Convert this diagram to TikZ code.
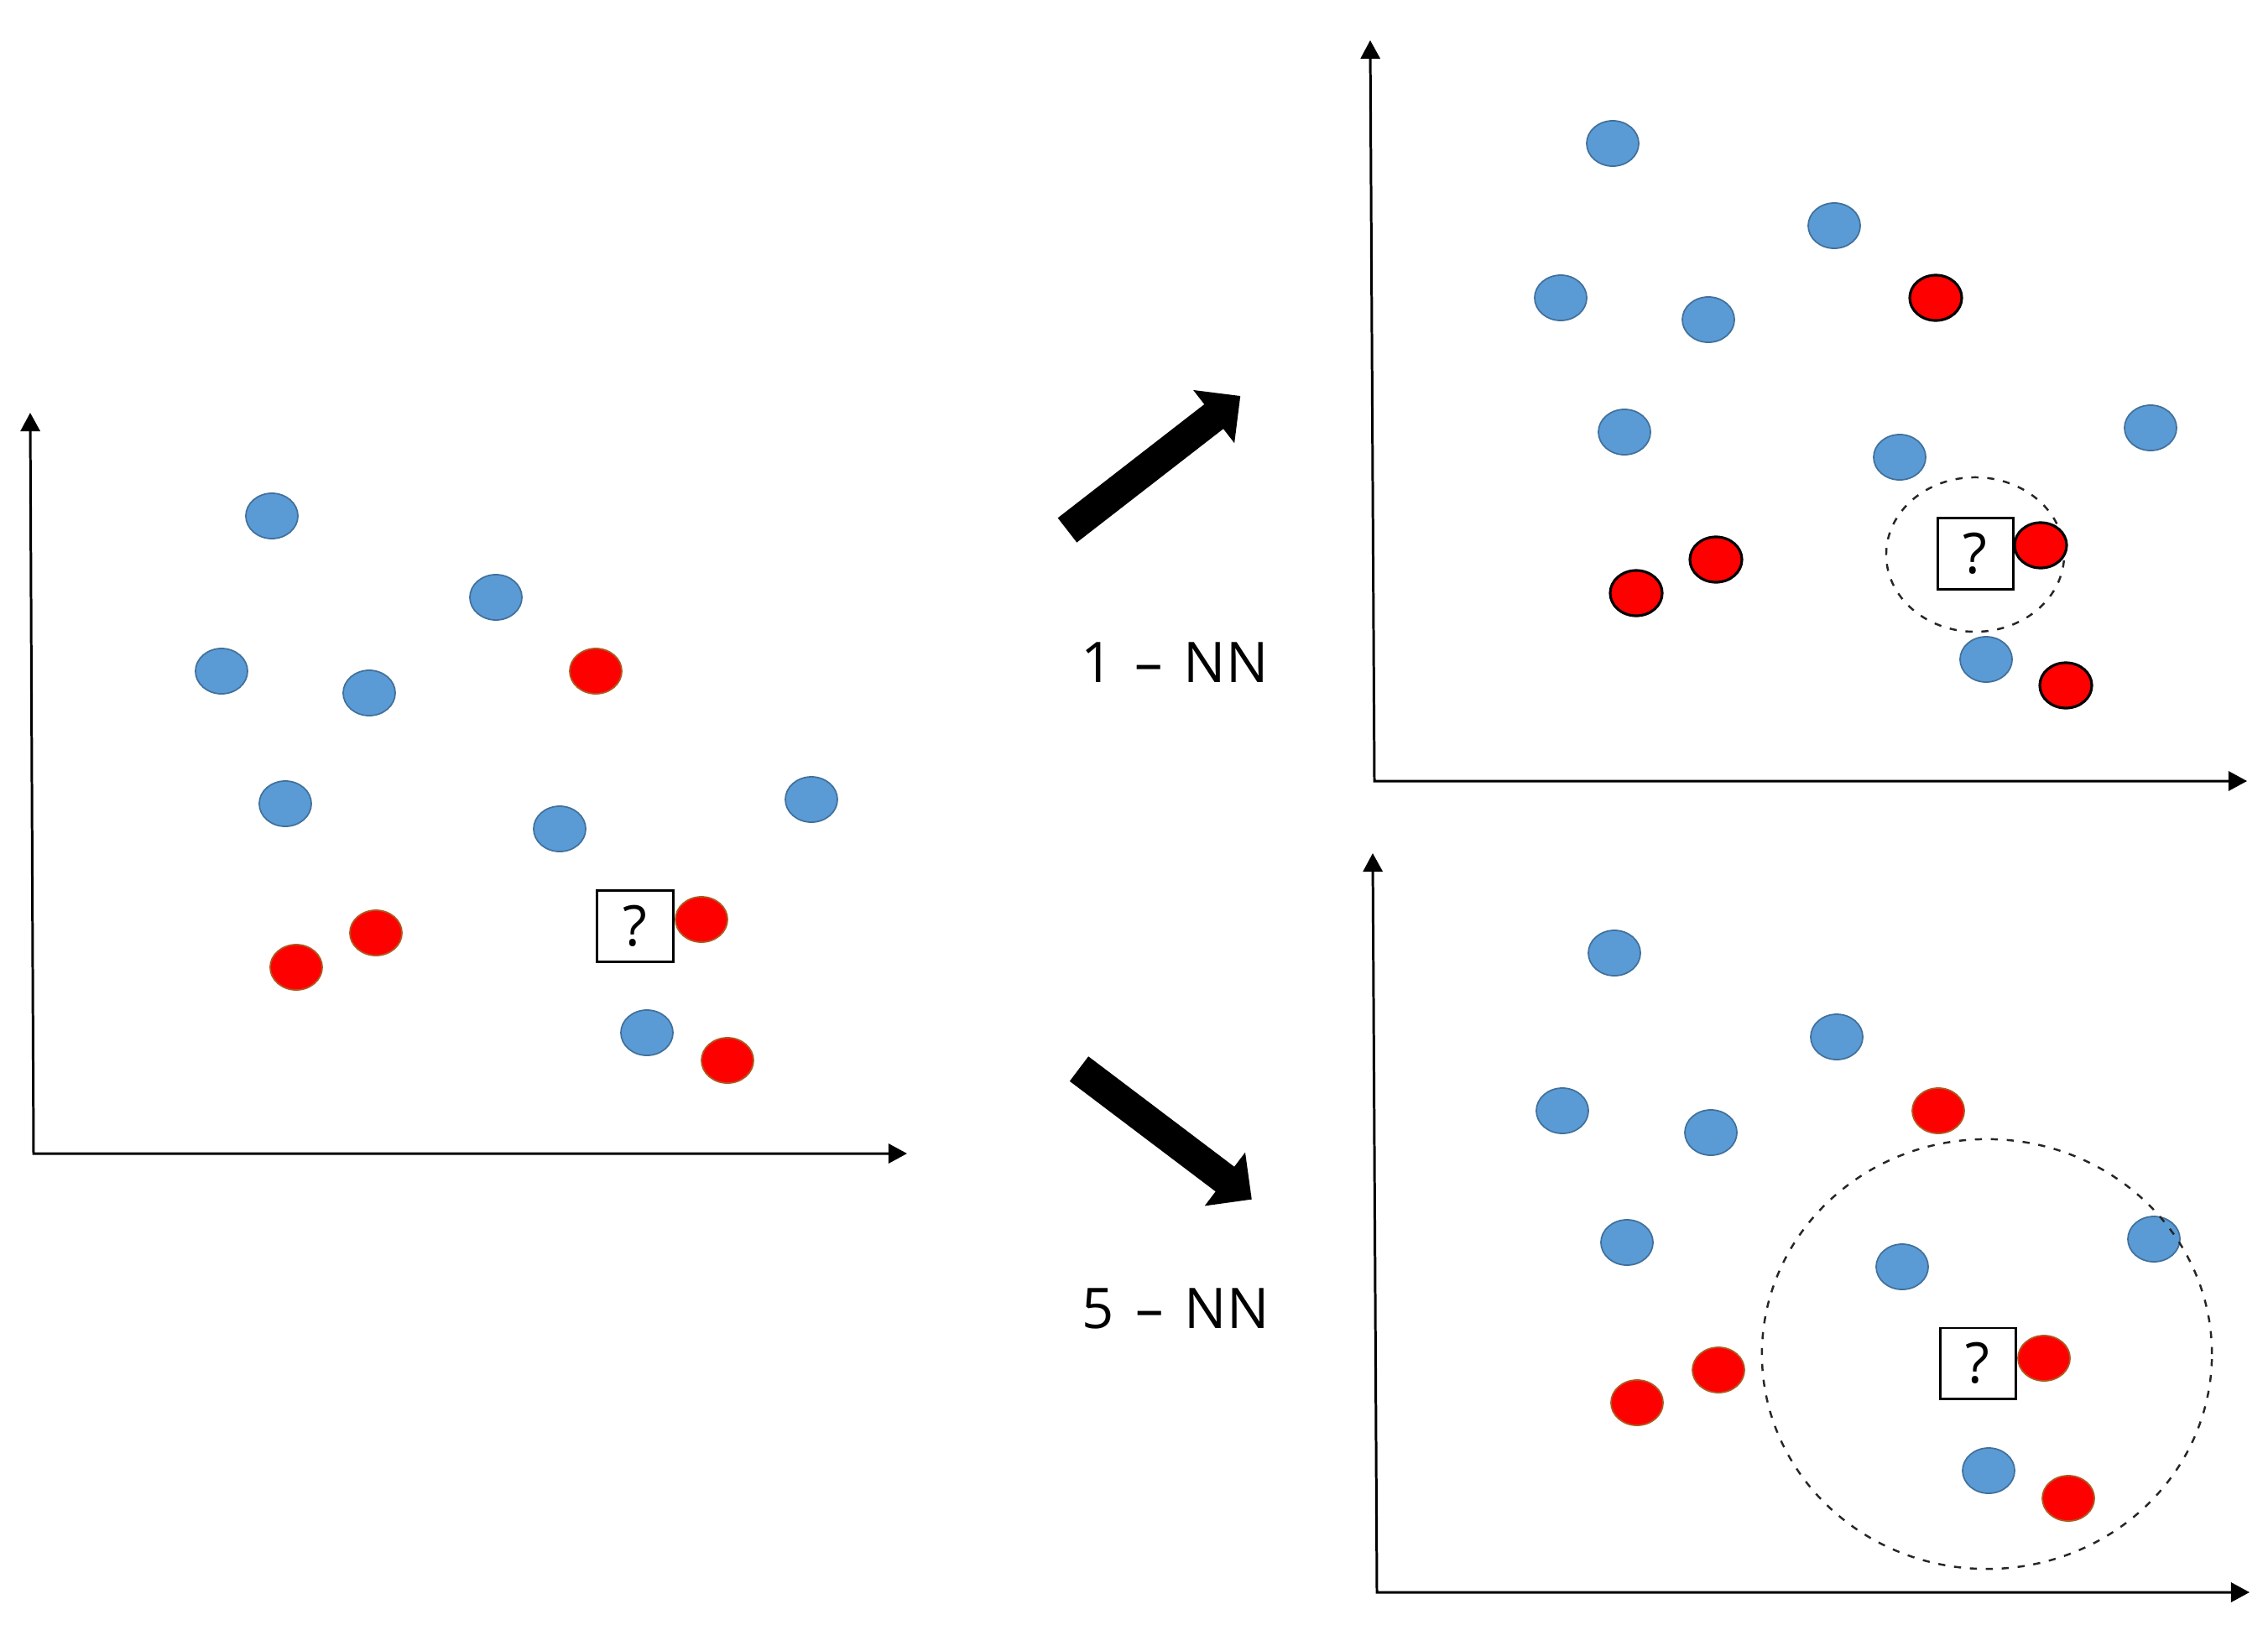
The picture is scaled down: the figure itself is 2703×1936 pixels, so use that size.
\documentclass[tikz,border=0pt]{standalone}
\usepackage{fontspec}
\setmainfont{Open Sans}
\usetikzlibrary{shapes.geometric,arrows.meta}
\definecolor{bfill}{HTML}{5B9BD5}
\definecolor{bline}{HTML}{41719C}
\definecolor{rfill}{HTML}{FF0000}
\definecolor{rline}{HTML}{AE5A21}
\tikzset{
  dotbase/.style={ellipse, minimum width=0.62cm, minimum height=0.54cm, inner sep=0pt, line width=0.5pt},
  bdot/.style={dotbase, fill=bfill, draw=bline},
  rdot/.style={dotbase, fill=rfill, draw=rline},
  rdotk/.style={dotbase, fill=rfill, draw=black, line width=0.9pt},
  qbox/.style={draw=black, line width=0.85pt, fill=white, minimum width=0.9cm, minimum height=0.84cm, inner sep=0pt, font=\fontsize{19pt}{22pt}\selectfont},
  axisline/.style={draw=black, line width=0.85pt, {Triangle[length=6.3pt,width=6.6pt]}-{Triangle[length=6.3pt,width=6.6pt]}},
  dashring/.style={ellipse, draw=black!85, line width=0.7pt, dash pattern=on 2.4pt off 3pt, inner sep=0pt},
  lbl/.style={font=\fontsize{19pt}{22pt}\selectfont, inner sep=0pt, anchor=base},
  bigarrow/.style={fill=black}
}
\begin{document}
\begin{tikzpicture}[x=0.01cm,y=-0.01cm]
\useasboundingbox (0,0) rectangle (2703,1936);
% ---------- left panel ----------
\coordinate (ly) at (36,492);
\coordinate (lo) at (40,1375);
\coordinate (lx) at (1081,1375);
\draw[axisline] (ly) -- (lo) -- (lx);
\node[bdot] (lb1) at (324,615) {};
\node[bdot] (lb2) at (591,712) {};
\node[bdot] (lb3) at (264,800) {};
\node[bdot] (lb4) at (440,826) {};
\node[bdot] (lb5) at (340,958) {};
\node[bdot] (lb6) at (667,988) {};
\node[bdot] (lb7) at (967,953) {};
\node[bdot] (lb8) at (771,1231) {};
\node[rdot] (lr1) at (710,800) {};
\node[rdot] (lr2) at (836,1096) {};
\node[rdot] (lr3) at (448,1112) {};
\node[rdot] (lr4) at (353,1153) {};
\node[rdot] (lr5) at (867,1264) {};
\node[qbox] (lq) at (757,1104) {?};
% ---------- arrows and labels ----------
\begin{scope}[shift={(1272,632)}, rotate=37.8]
\fill[bigarrow] (0,-18.5) -- (221,-18.5) -- (221,-40) -- (261,0) -- (221,40) -- (221,18.5) -- (0,18.5) -- cycle;
\end{scope}
\begin{scope}[shift={(1286,1274)}, rotate=-37.1]
\fill[bigarrow] (0,-18.5) -- (218,-18.5) -- (218,-40) -- (258,0) -- (218,40) -- (218,18.5) -- (0,18.5) -- cycle;
\end{scope}
\node[lbl] (t1) at (1400,813) {1\hspace{0.12em} –\hspace{0.12em} NN};
\node[lbl] (t5) at (1401,1583) {5\hspace{0.12em} –\hspace{0.12em} NN};
% ---------- top-right panel ----------
\coordinate (ay) at (1633,48);
\coordinate (ao) at (1638,931);
\coordinate (ax) at (2678,931);
\draw[axisline] (ay) -- (ao) -- (ax);
\node[bdot] (ab1) at (1922,171) {};
\node[bdot] (ab2) at (2186,269) {};
\node[bdot] (ab3) at (1860,355) {};
\node[bdot] (ab4) at (2036,381) {};
\node[bdot] (ab5) at (1936,515) {};
\node[bdot] (ab6) at (2264,545) {};
\node[bdot] (ab7) at (2563,510) {};
\node[bdot] (ab8) at (2367,786) {};
\node[rdotk] (ar1) at (2307,355) {};
\node[rdotk] (ar2) at (2045,667) {};
\node[rdotk] (ar3) at (1950,707) {};
\node[rdotk] (ar5) at (2462,817) {};
\node[dashring, minimum width=2.12cm, minimum height=1.84cm] (ac) at (2354,661) {};
\node[rdotk] (ar4) at (2432,650) {};
\node[qbox] (aq) at (2354,660) {?};
% ---------- bottom-right panel ----------
\coordinate (by) at (1636,1017);
\coordinate (bo) at (1641,1898);
\coordinate (bx) at (2681,1898);
\draw[axisline] (by) -- (bo) -- (bx);
\node[bdot] (bb1) at (1924,1136) {};
\node[bdot] (bb2) at (2189,1236) {};
\node[bdot] (bb3) at (1862,1324) {};
\node[bdot] (bb4) at (2039,1350) {};
\node[bdot] (bb5) at (1939,1481) {};
\node[bdot] (bb6) at (2267,1510) {};
\node[bdot] (bb7) at (2567,1477) {};
\node[bdot] (bb8) at (2370,1753) {};
\node[rdot] (br1) at (2310,1324) {};
\node[rdot] (br2) at (2048,1633) {};
\node[rdot] (br3) at (1951,1672) {};
\node[rdot] (br4) at (2436,1619) {};
\node[rdot] (br5) at (2465,1786) {};
\node[qbox] (bq) at (2357,1625) {?};
\node[dashring, minimum width=5.36cm, minimum height=5.12cm] (bc) at (2368,1614) {};
\end{tikzpicture}
\end{document}
